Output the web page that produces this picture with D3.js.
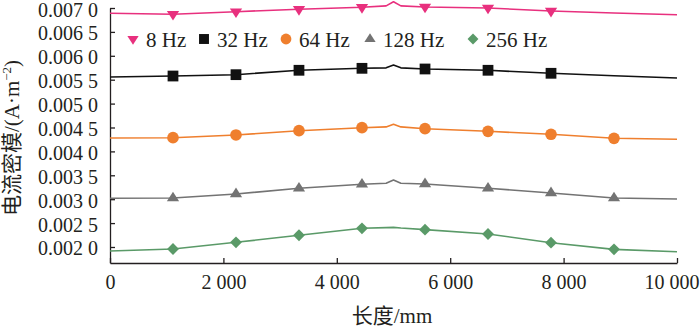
<!DOCTYPE html>
<html>
<head>
<meta charset="utf-8">
<script src="https://cdn.jsdelivr.net/npm/d3@7"></script>
<style>
  html, body { margin: 0; padding: 0; background: #fff; }
  svg { display: block; }
  text { font-family: "Liberation Serif", "Times New Roman", "Noto Sans CJK SC", serif; fill: #231f20; }
</style>
</head>
<body>
<svg id="chart" width="700" height="331"></svg>
<script>
// Sample positions along the length (mm)
const lineX = [0, 1111, 2222, 3333, 4444, 4870, 5000, 5130, 5556, 6667, 7778, 8889, 10000];

// Current density modulus (A·m^-2) per excitation frequency
const hz8   = [0.006890, 0.006870, 0.006923, 0.006973, 0.007015, 0.007045, 0.007132, 0.007045, 0.007022, 0.007000, 0.006937, 0.006896, 0.006860];
const hz32  = [0.005556, 0.005577, 0.005605, 0.005697, 0.005738, 0.005748, 0.005808, 0.005748, 0.005724, 0.005697, 0.005634, 0.005584, 0.005536];
const hz64  = [0.004280, 0.004287, 0.004343, 0.004433, 0.004496, 0.004512, 0.004567, 0.004512, 0.004475, 0.004420, 0.004358, 0.004274, 0.004253];
const hz128 = [0.003019, 0.003025, 0.003109, 0.003228, 0.003312, 0.003335, 0.003402, 0.003335, 0.003318, 0.003228, 0.003130, 0.003025, 0.003004];
const hz256 = [0.001916, 0.001958, 0.002098, 0.002245, 0.002391, 0.002406, 0.002411, 0.002397, 0.002363, 0.002272, 0.002090, 0.001951, 0.001900];

const seriesNames  = ["8 Hz", "32 Hz", "64 Hz", "128 Hz", "256 Hz"];
const seriesValues = [hz8, hz32, hz64, hz128, hz256];
const seriesColors = ["#e8307e", "#111111", "#ef7f2e", "#737373", "#5a9a68"];
const seriesShapes = ["triDown", "square", "circle", "triUp", "diamond"];

// Marked sample positions; each series marks the first N of them
const markerX = [1111, 2222, 3333, 4444, 5556, 6667, 7778, 8889];
const markerCount = [7, 7, 8, 8, 8];

const xTicks = [0, 2000, 4000, 6000, 8000, 10000];
const yTicks = [0.0020, 0.0025, 0.0030, 0.0035, 0.0040, 0.0045, 0.0050, 0.0055, 0.0060, 0.0065, 0.0070];

const xTitle = "长度/mm";
const yTitleMain = "电流密模/(A·m";
const yTitleSup = "−2";
const yTitleEnd = ")";

// Legend marker centres
const legendX = [133, 204, 286, 370, 473];

const svg = d3.select("#chart");
const x = d3.scaleLinear().domain([0, 10000]).range([110, 677]);
const y = d3.scaleLinear().domain([0.001665, 0.0070]).range([263, 8]);

// Custom marker shapes
const shapes = {
  triDown: { draw(ctx, size) { const w = Math.sqrt(size), h = w * 0.78;
    ctx.moveTo(-w / 2, -h / 3); ctx.lineTo(w / 2, -h / 3); ctx.lineTo(0, 2 * h / 3); ctx.closePath(); } },
  triUp: { draw(ctx, size) { const w = Math.sqrt(size), h = w * 0.78;
    ctx.moveTo(-w / 2, h / 3); ctx.lineTo(w / 2, h / 3); ctx.lineTo(0, -2 * h / 3); ctx.closePath(); } },
  square: { draw(ctx, size) { const s = Math.sqrt(size) / 2;
    ctx.moveTo(-s, -s); ctx.lineTo(s, -s); ctx.lineTo(s, s); ctx.lineTo(-s, s); ctx.closePath(); } },
  circle: { draw(ctx, size) { const r = Math.sqrt(size) / 2;
    ctx.moveTo(r, 0); ctx.arc(0, 0, r, 0, 2 * Math.PI); } },
  diamond: { draw(ctx, size) { const s = Math.sqrt(size) / 2;
    ctx.moveTo(0, -s); ctx.lineTo(s, 0); ctx.lineTo(0, s); ctx.lineTo(-s, 0); ctx.closePath(); } }
};
const shapeSize = { triDown: 150, triUp: 150, square: 116, circle: 136, diamond: 140 };
const symbolPath = k => d3.symbol().type(shapes[k]).size(shapeSize[k])();

// Axes
const xAxis = d3.axisBottom(x).tickValues(xTicks).tickSizeInner(-5).tickSizeOuter(0)
  .tickPadding(12).tickFormat(d => d3.format(",")(d).replace(/,/g, " "));
const gx = svg.append("g").attr("transform", `translate(0,${y.range()[0]})`).call(xAxis);
gx.selectAll("text").attr("font-size", 20).attr("dy", "0.71em").style("font-family", '"Liberation Serif", serif');
// keep the last label inside the canvas edge
gx.selectAll(".tick").filter(d => d === xTicks[xTicks.length - 1]).select("text")
  .attr("text-anchor", "end").attr("x", 22);

const yAxis = d3.axisLeft(y).tickValues(yTicks).tickSizeInner(-5).tickSizeOuter(0)
  .tickPadding(12).tickFormat(d => { const s = d.toFixed(4); return s.slice(0, -1) + " " + s.slice(-1); });
const gy = svg.append("g").attr("transform", `translate(${x.range()[0]},0)`).call(yAxis);
gy.selectAll("text").attr("font-size", 20).attr("dy", "0.4em").style("font-family", '"Liberation Serif", serif');

svg.selectAll(".domain, .tick line").attr("stroke", "#231f20").attr("stroke-width", 1.3);

// Series lines and markers
const line = d3.line().x((d, i) => x(lineX[i])).y(d => y(d));
seriesValues.forEach((vals, s) => {
  svg.append("path").attr("d", line(vals)).attr("fill", "none")
    .attr("stroke", seriesColors[s]).attr("stroke-width", 1.6).attr("stroke-linejoin", "round");
  const pts = markerX.slice(0, markerCount[s]).map(mx => ({ mx, v: vals[lineX.indexOf(mx)] }));
  svg.append("g").selectAll("path").data(pts).join("path")
    .attr("d", symbolPath(seriesShapes[s]))
    .attr("transform", d => `translate(${x(d.mx)},${y(d.v)})`)
    .attr("fill", seriesColors[s]);
});

// Legend
const legend = svg.append("g");
seriesNames.forEach((name, s) => {
  legend.append("path").attr("d", d3.symbol().type(shapes[seriesShapes[s]]).size(shapeSize[seriesShapes[s]] * 0.85)())
    .attr("transform", `translate(${legendX[s]},39)`).attr("fill", seriesColors[s]);
  legend.append("text").attr("x", legendX[s] + 13).attr("y", 47).attr("font-size", 21).text(name);
});

// Axis titles
svg.append("text").attr("x", 392).attr("y", 323).attr("text-anchor", "middle")
  .attr("font-size", 21).text(xTitle);

const yt = svg.append("text").attr("transform", "translate(19,138) rotate(-90)")
  .attr("text-anchor", "middle").attr("font-size", 21);
yt.append("tspan").text(yTitleMain);
yt.append("tspan").attr("font-size", 13).attr("dy", -8).text(yTitleSup);
yt.append("tspan").attr("dy", 8).text(yTitleEnd);
</script>
</body>
</html>
